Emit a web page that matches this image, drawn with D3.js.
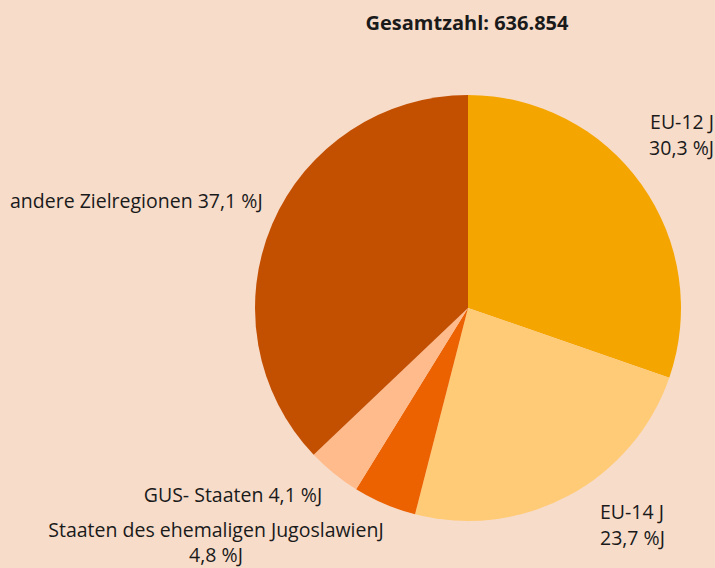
<!DOCTYPE html>
<html><head><meta charset="utf-8">
<script src="https://cdn.jsdelivr.net/npm/d3@7"></script>
<style>html,body{margin:0;padding:0;background:#F7DCCA;}svg{display:block;}</style>
</head><body>
<svg id="c" width="715" height="568"></svg>
<script>
const categories = ["EU-12", "EU-14", "Staaten des ehemaligen Jugoslawien", "GUS- Staaten", "andere Zielregionen"];
const values = [30.3, 23.7, 4.8, 4.1, 37.1];
const colors = ["#F5A500", "#FFCB77", "#EC6200", "#FFBB8C", "#C34F00"];
const title = "Gesamtzahl: 636.854";
const labelLines = [
  ["EU-12 J", "30,3 %J"],
  ["EU-14 J", "23,7 %J"],
  ["Staaten des ehemaligen JugoslawienJ", "4,8 %J"],
  ["GUS- Staaten 4,1 %J"],
  ["andere Zielregionen 37,1 %J"]
];
const labelPos = [
  {x: 714, y: 129, a: "end", gap: 25.5},
  {x: 600, y: 519, a: "start", gap: 25.5},
  {x: 216, y: 537, a: "middle", gap: 25},
  {x: 233, y: 502, a: "middle", gap: 0},
  {x: 10, y: 208, a: "start", gap: 0}
];

const svg = d3.select("#c");
const cx = 468, cy = 308, r = 213;
const pie = d3.pie().sort(null).value(d => d)(values);
const arc = d3.arc().innerRadius(0).outerRadius(r);
const g = svg.append("g").attr("transform", `translate(${cx},${cy})`);
g.selectAll("path").data(pie).join("path")
  .attr("d", arc).attr("fill", (d, i) => colors[i]);

const font = "'Open Sans', sans-serif";
svg.append("text").attr("x", 467).attr("y", 30).attr("text-anchor", "middle")
  .attr("font-family", font).attr("font-weight", "bold").attr("font-size", 20)
  .attr("fill", "#1a1a1a").text(title);

labelLines.forEach((lines, i) => {
  const p = labelPos[i];
  lines.forEach((l, j) => {
    svg.append("text").attr("x", p.x).attr("y", p.y + j * p.gap).attr("text-anchor", p.a)
      .attr("font-family", font).attr("font-size", 19.5).attr("fill", "#1a1a1a")
      .text(l);
  });
});
</script>
</body></html>
